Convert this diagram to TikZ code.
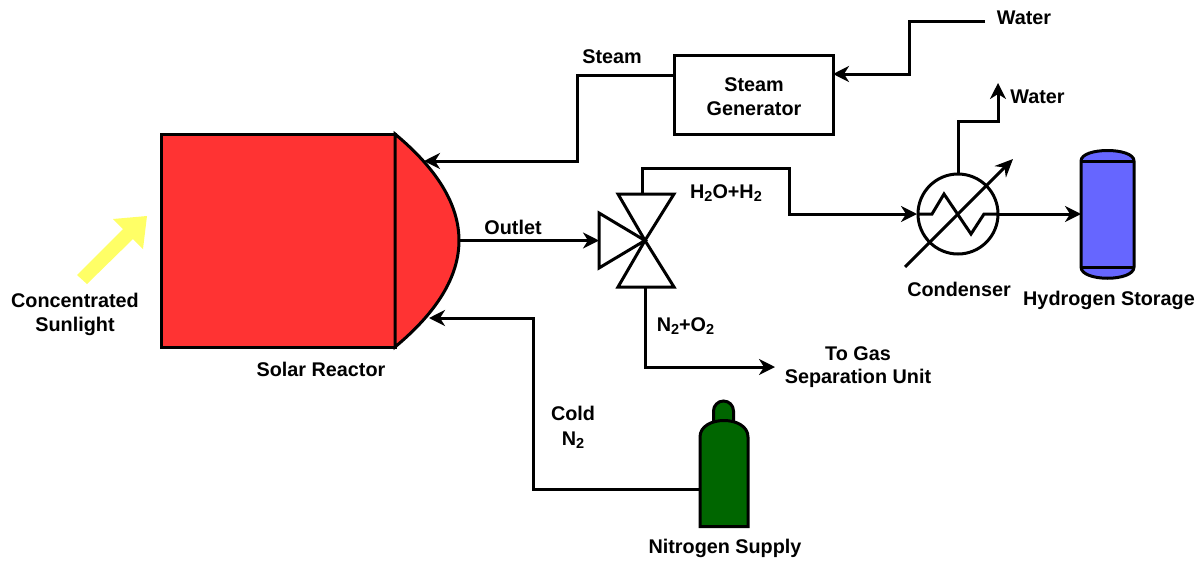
\documentclass[tikz,border=0pt]{standalone}
\usepackage{fontspec}
\setmainfont{Liberation Sans}
\usetikzlibrary{arrows.meta}
\definecolor{reactorred}{HTML}{FF3333}
\definecolor{sunyellow}{HTML}{FFFF66}
\definecolor{tankblue}{HTML}{6666FF}
\definecolor{bottlegreen}{HTML}{006600}
\newcommand{\subtwo}{\raisebox{-0.32ex}{\fontsize{14.5}{14.5}\selectfont 2}}
\tikzset{
  shapeline/.style={draw=black,line width=3pt,line join=miter},
  pipe/.style={draw=black,line width=3pt,line join=miter},
  flow/.style={pipe,-{Stealth[length=16pt,width=16pt,inset=5pt]}},
  lbl/.style={font=\bfseries\fontsize{19.8}{23.5}\selectfont,align=center,inner sep=0pt,text=black},
  port/.style={inner sep=0pt,outer sep=0pt,minimum size=0pt}
}
\begin{document}
\begin{tikzpicture}[x=1pt,y=-1pt]
\useasboundingbox[fill=white] (0,0) rectangle (1201,560);

% ports
\coordinate (reactorTop) at (395,134);
\coordinate (reactorBot) at (395,347);
\coordinate (reactorOut) at (459,240.5);
\coordinate (reactorIn1) at (424,161);
\coordinate (reactorIn2) at (429,318);
\coordinate (valveC) at (645,240.5);
\coordinate (valveIn) at (599,240.5);
\coordinate (valveTop) at (642,194);
\coordinate (valveBot) at (645,287);
\coordinate (condIn) at (917,214);
\coordinate (condOut) at (998,214);
\coordinate (condTop) at (958,174);
\coordinate (tankIn) at (1081,214);
\coordinate (bottlePort) at (700,489);
\coordinate (waterIn) at (985,21);
\coordinate (waterOut) at (998,83);
\coordinate (gasOut) at (775,367);

% reactor
\draw[shapeline,fill=reactorred] (161,134) rectangle (395,347);
\draw[shapeline,fill=reactorred] (reactorTop) .. controls (480.3,205) and (480.3,276) .. (reactorBot) -- cycle;

% sunlight arrow
\fill[sunyellow] (77,275) -- (123,229) -- (113,219) -- (147,216) -- (143,249) -- (133,239) -- (87,284) -- cycle;

% steam generator
\node[shapeline,fill=white,minimum width=159pt,minimum height=79pt,inner sep=0pt,outer sep=0pt] (gen) at (753.5,94.5) {};
\node[lbl] (genText) at (754,96.5) {Steam\\Generator};
\coordinate (genIn) at (833,74);
\coordinate (genOut) at (674,75);

% valve
\draw[shapeline,fill=white] (599,213) -- (599,268) -- (valveC) -- cycle;
\draw[shapeline,fill=white] (618,194) -- (674,194) -- (valveC) -- cycle;
\draw[shapeline,fill=white] (618,287) -- (674,287) -- (valveC) -- cycle;

% condenser
\node[circle,shapeline,fill=white,minimum size=80pt,inner sep=0pt,outer sep=0pt] (cond) at (958,214) {};
\draw[pipe] (condIn) -- (932,214) -- (944,194) -- (971,234) -- (984,214) -- (condOut);
\coordinate (adjA) at (905,267);
\coordinate (adjB) at (1013,159);
\draw[pipe,-{Stealth[length=18pt,width=16pt,inset=6pt]}] (adjA) -- (adjB);

% hydrogen tank
\draw[shapeline,fill=tankblue] (1081,161) .. controls (1081,147) and (1134,147) .. (1134,161) -- (1134,267) .. controls (1134,282) and (1081,282) .. (1081,267) -- cycle;
\draw[shapeline] (1081,161) -- (1134,161);
\draw[shapeline] (1081,267) -- (1134,267);

% nitrogen bottle
\draw[shapeline,fill=bottlegreen] (713.5,422) -- (713.5,411) arc[start angle=180,end angle=360,radius=10] -- (733.5,422) -- cycle;
\draw[shapeline,fill=bottlegreen] (700,526.5) -- (700,437) .. controls (700,426) and (712,420.5) .. (724,420.5) .. controls (736,420.5) and (748,426) .. (748,437) -- (748,526.5) -- cycle;

% connectors
\draw[flow] (waterIn) -- (909,21) -- (909,74) -- (genIn);
\draw[flow] (genOut) -- (577,75) -- (577,161) -- (reactorIn1);
\draw[flow] (reactorOut) -- (valveIn);
\draw[flow] (valveTop) -- (642,168) -- (789,168) -- (789,214) -- (condIn);
\draw[flow] (valveBot) -- (645,367) -- (gasOut);
\draw[flow] (condTop) -- (958,121) -- (998,121) -- (waterOut);
\draw[flow] (condOut) -- (tankIn);
\draw[flow] (bottlePort) -- (533,489) -- (533,318) -- (reactorIn2);

% labels
\node[lbl] (lSteam) at (612,56.5) {Steam};
\node[lbl] (lWaterIn) at (1024,17.5) {Water};
\node[lbl] (lWaterOut) at (1037.5,97) {Water};
\node[lbl] (lH2O) at (726,193) {H\subtwo O+H\subtwo};
\node[lbl] (lOutlet) at (513,227.5) {Outlet};
\node[lbl] (lN2O2) at (685.5,326) {N\subtwo+O\subtwo};
\node[lbl] (lGas) at (858,367) {To Gas\\Separation Unit};
\node[lbl] (lCond) at (959,289) {Condenser};
\node[lbl] (lTank) at (1109,300.5) {Hydrogen Storage};
\node[lbl] (lReactor) at (321,369) {Solar Reactor};
\node[lbl] (lSun) at (75,314.5) {Concentrated\\Sunlight};
\node[lbl] (lCold) at (573,427.5) {Cold\\[1pt]N\subtwo};
\node[lbl] (lSupply) at (725,548.5) {Nitrogen Supply};
\end{tikzpicture}
\end{document}
